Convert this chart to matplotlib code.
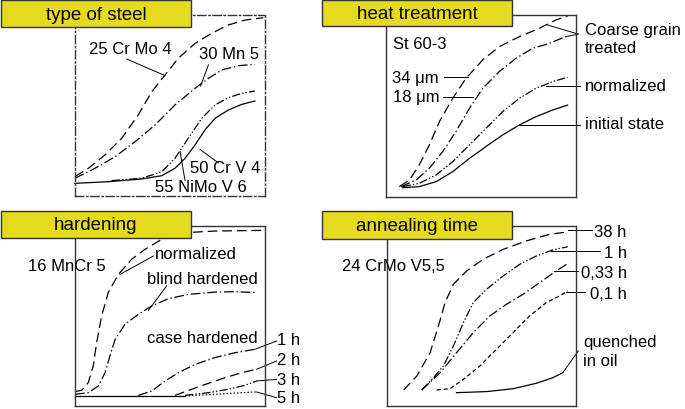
import matplotlib.pyplot as plt
from matplotlib.patches import Rectangle

plt.rcParams['font.family'] = ['Liberation Sans', 'DejaVu Sans']
plt.rcParams['lines.scale_dashes'] = False

# curves, in percent of each panel frame (x to the right, y upwards)
# --- type of steel
crmo_x = [0, 7.0, 15.8, 24.6, 33.3, 40.4, 47.4, 54.4, 63.2, 71.9, 80.7, 89.5, 99.1]
crmo_y = [10.7, 15.3, 22.7, 31.9, 44.8, 57.6, 66.9, 76.1, 84.3, 89.9, 94.5, 97.2, 98.5]
mn_x = [0, 10.5, 21.1, 31.6, 42.1, 52.6, 63.2, 70.2, 77.2, 86.0, 94.7]
mn_y = [9.8, 15.3, 21.7, 30.0, 39.2, 50.3, 59.5, 65.0, 69.6, 72.0, 72.7]
nimo_x = [19.3, 35.1, 45.6, 52.6, 59.6, 66.7, 73.7, 80.7, 87.7, 94.7]
nimo_y = [8.5, 9.8, 13.4, 20.8, 31.9, 42.9, 50.3, 54.3, 56.7, 58.0]
crv_x = [0, 17.5, 35.1, 45.6, 52.6, 57.9, 63.2, 68.4, 73.7, 80.7, 87.7, 94.7]
crv_y = [7.0, 7.9, 9.4, 11.2, 15.3, 20.8, 28.2, 36.5, 42.9, 47.5, 50.6, 52.5]

# --- heat treatment
um34_x = [7.0, 12.3, 17.5, 22.8, 28.1, 35.1, 42.1, 50.9, 59.6, 70.2, 80.7, 89.5, 95.6]
um34_y = [5.7, 9.3, 17.6, 28.6, 41.4, 54.2, 65.2, 75.3, 82.6, 88.1, 92.7, 97.3, 99.5]
um18_x = [7.9, 15.8, 22.8, 29.8, 36.8, 43.9, 50.9, 59.6, 68.4, 77.2, 86.0, 95.6]
um18_y = [5.7, 9.3, 15.8, 24.9, 35.9, 48.7, 59.7, 68.9, 76.2, 81.7, 84.4, 88.6]
norm_x = [8.8, 17.5, 26.3, 35.1, 43.9, 52.6, 61.4, 70.2, 78.9, 87.7, 95.6]
norm_y = [5.7, 7.5, 12.1, 19.4, 28.6, 37.7, 46.9, 54.2, 59.7, 63.4, 65.8]
init_x = [8.8, 17.5, 26.3, 35.1, 43.9, 52.6, 61.4, 70.2, 78.9, 87.7, 95.6]
init_y = [5.1, 5.7, 8.4, 13.9, 21.2, 27.7, 34.1, 39.6, 44.1, 47.8, 50.5]

# --- hardening
hnorm_x = [0, 3.5, 7.0, 9.6, 11.4, 14.0, 17.5, 22.8, 29.8, 36.8, 45.6, 57.9, 73.7, 100]
hnorm_y = [8.0, 8.7, 13.0, 22.2, 35.2, 50.0, 63.0, 73.1, 81.5, 87.0, 92.6, 96.3, 97.2, 97.6]
blind_x = [0, 7.0, 12.3, 15.8, 18.4, 21.1, 26.3, 33.3, 40.4, 49.1, 59.6, 73.7, 84.2, 95.6]
blind_y = [6.5, 7.4, 11.1, 18.5, 27.8, 37.0, 45.4, 50.9, 55.6, 59.6, 62.0, 63.3, 63.5, 63.0]
h1_x = [33.3, 40.4, 47.4, 54.4, 63.2, 73.7, 84.2, 94.7]
h1_y = [5.9, 8.3, 13.9, 18.5, 23.1, 26.9, 29.6, 31.5]
h2_x = [52.6, 61.4, 70.2, 78.9, 87.7, 95.6]
h2_y = [5.9, 9.3, 12.6, 15.7, 18.5, 20.4]
h3_x = [57.9, 70.2, 80.7, 89.5, 95.6]
h3_y = [5.9, 7.4, 9.3, 11.5, 13.9]
h5_x = [57.9, 73.7, 87.7, 95.6]
h5_y = [5.6, 6.5, 7.4, 7.8]
base_x = [0, 57.9]
base_y = [5.6, 5.6]

# --- annealing time
a38_x = [8.8, 15.8, 22.8, 27.2, 30.7, 35.1, 42.1, 50.9, 61.4, 73.7, 86.0, 95.6]
a38_y = [8.9, 16.7, 29.6, 44.4, 57.4, 67.6, 75.0, 81.5, 87.0, 91.7, 95.4, 96.7]
a1_x = [18.4, 24.6, 29.8, 35.1, 40.4, 45.6, 52.6, 61.4, 70.2, 78.9, 87.7, 95.6]
a1_y = [8.9, 15.7, 22.2, 33.3, 46.3, 57.4, 64.8, 72.2, 78.7, 83.3, 86.7, 88.5]
a033_x = [18.4, 28.1, 36.8, 45.6, 54.4, 63.2, 71.9, 80.7, 89.5, 95.6]
a033_y = [8.9, 18.5, 29.6, 40.7, 50.0, 56.5, 62.0, 68.5, 75.0, 79.1]
a01_x = [26.3, 33.3, 40.4, 49.1, 57.9, 66.7, 75.4, 84.2, 91.2, 95.6]
a01_y = [8.9, 9.6, 14.8, 22.2, 31.5, 40.7, 50.0, 57.4, 61.1, 63.9]
oil_x = [36.8, 52.6, 66.7, 78.9, 87.7, 93.0]
oil_y = [7.4, 8.0, 9.6, 12.6, 15.7, 18.5]

titles = ['type of steel', 'heat treatment', 'hardening', 'annealing time']

DASH = (0, (7, 3.5))
DASHDOT = (0, (7, 2, 1, 2))
DASHDOTDOT = (0, (6, 1.5, 1, 1.5, 1, 1.5))
SHORTDASH = (0, (3, 2))
DOTTED = (0, (1, 1.5))
FS = 12
W, H = 685, 410

fig = plt.figure(figsize=(6.85, 4.10), dpi=100)


def panel(x0, x1, y0, y1):
    ax = fig.add_axes([x0 / W, (H - y1) / H, (x1 - x0) / W, (y1 - y0) / H])
    ax.set_xlim(0, 100)
    ax.set_ylim(0, 100)
    ax.set_xticks([])
    ax.set_yticks([])
    for s in ax.spines.values():
        s.set_linewidth(1.0)
        s.set_color('#333333')
    return ax


def curve(ax, x, y, ls):
    ax.plot(x, y, color='black', lw=0.9, linestyle=ls, clip_on=False)


def leader(ax, x, y):
    ax.plot(x, y, color='black', lw=0.7, clip_on=False)


# panel 1
ax1 = panel(75, 265, 16, 197)
for s in ax1.spines.values():
    s.set_linestyle((0, (6, 2, 1, 2)))
curve(ax1, crmo_x, crmo_y, DASH)
curve(ax1, mn_x, mn_y, DASHDOT)
curve(ax1, nimo_x, nimo_y, DASHDOTDOT)
curve(ax1, crv_x, crv_y, '-')
ax1.text(28.9, 81.6, '25 Cr Mo 4', fontsize=FS, ha='center', va='center')
leader(ax1, [27.2, 47.4], [75.7, 66.5])
ax1.text(81.2, 78.9, '30 Mn 5', fontsize=FS, ha='center', va='center')
leader(ax1, [70.2, 66.1], [72.4, 60.7])
ax1.text(78.9, 16.0, '50 Cr V 4', fontsize=FS, ha='center', va='center')
leader(ax1, [65.8, 75.4], [25.7, 18.4])
ax1.text(66.1, 5.0, '55 NiMo V 6', fontsize=FS, ha='center', va='center')
leader(ax1, [55.3, 57.9], [24.6, 8.6])

# panel 2
ax2 = panel(386, 576, 16, 198)
curve(ax2, um34_x, um34_y, DASH)
curve(ax2, um18_x, um18_y, DASHDOT)
curve(ax2, norm_x, norm_y, DASHDOTDOT)
curve(ax2, init_x, init_y, '-')
ax2.text(3.9, 84.6, 'St 60-3', fontsize=FS, ha='left', va='center')
ax2.text(3.0, 65.8, '34 μm', fontsize=FS, ha='left', va='center')
leader(ax2, [30.7, 43.0], [65.8, 65.8])
ax2.text(3.9, 55.2, '18 μm', fontsize=FS, ha='left', va='center')
leader(ax2, [29.8, 46.0], [55.1, 55.1])
ax2.text(104.7, 92.3, 'Coarse grain', fontsize=FS, ha='left', va='center')
ax2.text(104.7, 82.3, 'treated', fontsize=FS, ha='left', va='center')
leader(ax2, [85.1, 101.2], [94.5, 89.5])
leader(ax2, [94.7, 101.2], [88.1, 89.5])
ax2.text(104.7, 61.2, 'normalized', fontsize=FS, ha='left', va='center')
leader(ax2, [84.2, 102.1], [61.2, 61.2])
ax2.text(104.7, 40.2, 'initial state', fontsize=FS, ha='left', va='center')
leader(ax2, [70.2, 102.1], [39.6, 39.6])

# panel 3
ax3 = panel(75, 265, 227, 407)
curve(ax3, hnorm_x, hnorm_y, DASH)
curve(ax3, blind_x, blind_y, DASHDOT)
curve(ax3, h1_x, h1_y, DASHDOT)
curve(ax3, h2_x, h2_y, DASH)
curve(ax3, h3_x, h3_y, DASHDOTDOT)
curve(ax3, h5_x, h5_y, DOTTED)
curve(ax3, base_x, base_y, '-')
ax3.text(-24.6, 77.8, '16 MnCr 5', fontsize=FS, ha='left', va='center')
ax3.text(42.1, 84.6, 'normalized', fontsize=FS, ha='left', va='center')
leader(ax3, [41.2, 23.7], [83.3, 73.1])
ax3.text(37.7, 70.9, 'blind hardened', fontsize=FS, ha='left', va='center')
leader(ax3, [48.2, 38.6], [66.7, 53.1])
ax3.text(37.7, 38.0, 'case hardened', fontsize=FS, ha='left', va='center')
ax3.text(106.1, 37.0, '1 h', fontsize=FS, ha='left', va='center')
leader(ax3, [94.7, 106.1], [31.5, 36.1])
ax3.text(106.1, 25.9, '2 h', fontsize=FS, ha='left', va='center')
leader(ax3, [95.6, 106.1], [20.4, 25.0])
ax3.text(106.1, 14.8, '3 h', fontsize=FS, ha='left', va='center')
leader(ax3, [95.6, 106.1], [13.9, 14.8])
ax3.text(106.1, 4.6, '5 h', fontsize=FS, ha='left', va='center')
leader(ax3, [95.6, 106.1], [7.8, 4.6])

# panel 4
ax4 = panel(387, 576, 227, 407)
curve(ax4, a38_x, a38_y, DASH)
curve(ax4, a1_x, a1_y, DASHDOTDOT)
curve(ax4, a033_x, a033_y, DASHDOT)
curve(ax4, a01_x, a01_y, SHORTDASH)
curve(ax4, oil_x, oil_y, '-')
ax4.text(-23.8, 77.8, '24 CrMo V5,5', fontsize=FS, ha='left', va='center')
ax4.text(126.8, 97.2, '38 h', fontsize=FS, ha='right', va='center')
leader(ax4, [95.6, 108.3], [97.8, 97.8])
ax4.text(126.8, 85.2, '1 h', fontsize=FS, ha='right', va='center')
leader(ax4, [86.8, 112.7], [86.1, 86.1])
ax4.text(126.8, 74.1, '0,33 h', fontsize=FS, ha='right', va='center')
leader(ax4, [88.6, 101.2], [75.0, 75.0])
ax4.text(126.8, 62.6, '0,1 h', fontsize=FS, ha='right', va='center')
leader(ax4, [94.7, 104.8], [63.5, 63.5])
ax4.text(103.9, 35.7, 'quenched', fontsize=FS, ha='left', va='center')
ax4.text(103.9, 25.0, 'in oil', fontsize=FS, ha='left', va='center')
leader(ax4, [93.0, 101.2], [18.5, 30.6])

# yellow title boxes on top, in pixel coords
top = fig.add_axes([0, 0, 1, 1], zorder=10)
top.set_xlim(0, W)
top.set_ylim(H, 0)
top.axis('off')
boxes = [(1, 1, 191, 28), (322, 1, 512, 27), (1, 212, 191, 239), (322, 212, 512, 240)]
for (bx0, by0, bx1, by1), t in zip(boxes, titles):
    top.add_patch(Rectangle((bx0, by0), bx1 - bx0, by1 - by0, facecolor='#E6DA1E',
                            edgecolor='#333333', lw=1.0))
    top.text((bx0 + bx1) / 2, (by0 + by1) / 2 + 0.5, t, fontsize=13.5,
             ha='center', va='center')

fig.savefig('out.png', dpi=100)
